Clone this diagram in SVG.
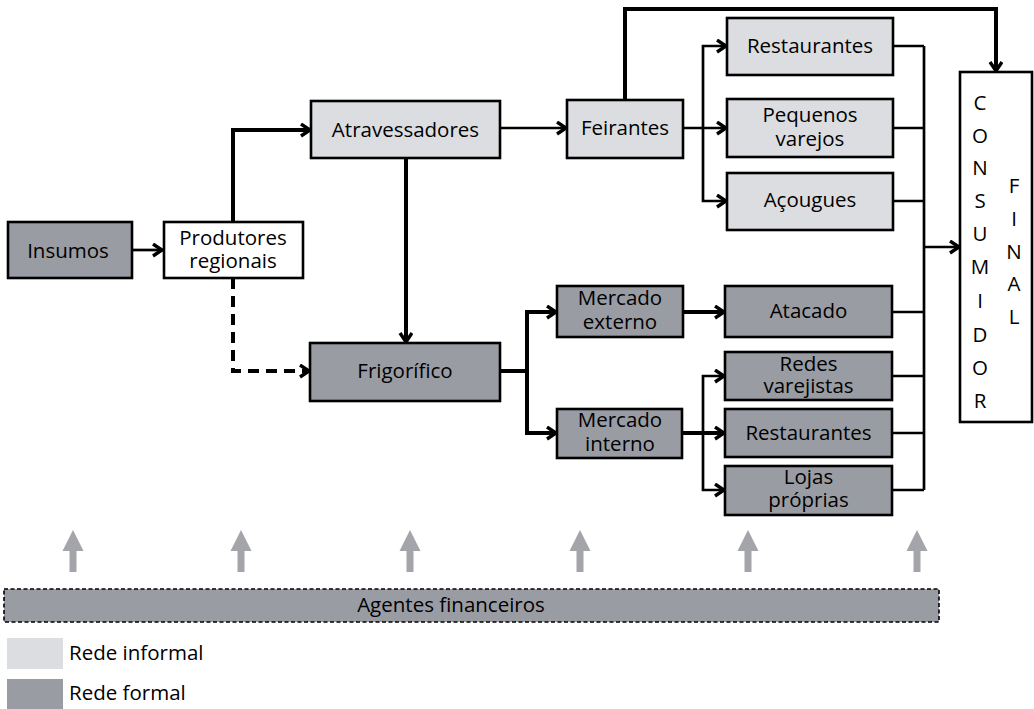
<svg xmlns="http://www.w3.org/2000/svg" width="1034" height="709" viewBox="0 0 1034 709">
<style>
.box{stroke:#000;stroke-width:2.6}
.inf{fill:#dcdde0}
.frm{fill:#9a9ca3}
.wht{fill:#fff}
text{font-family:"Open Sans","Noto Sans",sans-serif;font-size:20.5px;fill:#000;text-anchor:middle}
.thk{fill:none;stroke:#000;stroke-width:4}
.thn{fill:none;stroke:#000;stroke-width:2.7}
.up{fill:#a3a5ab}
</style>
<defs>
<marker id="ah" markerUnits="userSpaceOnUse" markerWidth="16" markerHeight="16" refX="12" refY="7" orient="auto">
<path d="M2,1 L11,7 L2,13" fill="none" stroke="#000" stroke-width="3.4"/>
</marker>
</defs>
<rect x="0" y="0" width="1034" height="709" fill="#fff"/>
<g id="connectors">
<path class="thn" d="M132,250 H163" marker-end="url(#ah)"/>
<path class="thk" d="M233,222 V130 H311" marker-end="url(#ah)"/>
<path class="thk" d="M233,278 V371 H310" stroke-dasharray="11,7" marker-end="url(#ah)"/>
<path class="thk" d="M406,158 V343" marker-end="url(#ah)"/>
<path class="thn" d="M500,128 H567" marker-end="url(#ah)"/>
<path class="thk" d="M625,100 V9 H996 V72" marker-end="url(#ah)"/>
<path class="thn" d="M683,128 H727" marker-end="url(#ah)"/>
<path class="thn" d="M703,128 V46 H727" marker-end="url(#ah)"/>
<path class="thn" d="M703,128 V201 H727" marker-end="url(#ah)"/>
<path class="thn" d="M893,46 H924 M893,128 H924 M893,201 H924 M924,46 V490 M892,312 H924 M892,376 H924 M892,433 H924 M892,490 H924"/>
<path class="thn" d="M924,247 H960" marker-end="url(#ah)"/>
<path class="thk" d="M500,371 H527"/>
<path class="thk" d="M527,371 V312 H557" marker-end="url(#ah)"/>
<path class="thk" d="M527,371 V433 H557" marker-end="url(#ah)"/>
<path class="thk" d="M683,312 H725" marker-end="url(#ah)"/>
<path class="thk" d="M682,433 H725" marker-end="url(#ah)"/>
<path class="thn" d="M703,433 V376 H725" marker-end="url(#ah)"/>
<path class="thn" d="M703,433 V490 H725" marker-end="url(#ah)"/>
</g>
<g id="insumos"><rect class="box frm" x="8" y="222" width="124" height="56"/><text x="68" y="258">Insumos</text></g>
<g id="produtores"><rect class="box wht" x="164" y="222" width="139" height="56"/><text x="233" y="245">Produtores</text><text x="233" y="268">regionais</text></g>
<g id="atravessadores"><rect class="box inf" x="311" y="101" width="189" height="57"/><text x="405.5" y="137">Atravessadores</text></g>
<g id="frigorifico"><rect class="box frm" x="310" y="343" width="190" height="58"/><text x="405" y="378">Frigorífico</text></g>
<g id="feirantes"><rect class="box inf" x="567" y="100" width="116" height="58"/><text x="625" y="135">Feirantes</text></g>
<g id="restaurantes1"><rect class="box inf" x="727" y="18" width="166" height="57"/><text x="810" y="53">Restaurantes</text></g>
<g id="pequenos"><rect class="box inf" x="727" y="99" width="166" height="58"/><text x="810" y="122">Pequenos</text><text x="810" y="146">varejos</text></g>
<g id="acougues"><rect class="box inf" x="727" y="173" width="166" height="57"/><text x="810" y="207">Açougues</text></g>
<g id="mercado-externo"><rect class="box frm" x="557" y="286" width="126" height="51"/><text x="620" y="305">Mercado</text><text x="620" y="329">externo</text></g>
<g id="mercado-interno"><rect class="box frm" x="557" y="409" width="125" height="49"/><text x="620" y="427">Mercado</text><text x="620" y="451">interno</text></g>
<g id="atacado"><rect class="box frm" x="725" y="286" width="167" height="51"/><text x="808.5" y="318">Atacado</text></g>
<g id="redes"><rect class="box frm" x="725" y="352" width="167" height="48"/><text x="808.5" y="371">Redes</text><text x="808.5" y="393">varejistas</text></g>
<g id="restaurantes2"><rect class="box frm" x="725" y="409" width="167" height="48"/><text x="808.5" y="440">Restaurantes</text></g>
<g id="lojas"><rect class="box frm" x="725" y="466" width="167" height="49"/><text x="808.5" y="484">Lojas</text><text x="808.5" y="507">próprias</text></g>
<g id="consumidor"><rect class="box wht" x="960" y="72" width="72" height="350"/>
<text x="980" y="110">C</text><text x="980" y="143">O</text><text x="980" y="175">N</text><text x="980" y="208">S</text><text x="980" y="241">U</text><text x="980" y="274">M</text><text x="980" y="308">I</text><text x="980" y="342">D</text><text x="980" y="375">O</text><text x="980" y="408">R</text>
<text x="1014" y="193">F</text><text x="1014" y="226">I</text><text x="1014" y="259">N</text><text x="1014" y="291">A</text><text x="1014" y="324">L</text>
</g>
<g id="up-arrows">
<path class="up" d="M73,530 L83.5,551 L76.5,551 L76.5,572 L69.5,572 L69.5,551 L62.5,551 Z"/>
<path class="up" d="M241,530 L251.5,551 L244.5,551 L244.5,572 L237.5,572 L237.5,551 L230.5,551 Z"/>
<path class="up" d="M410,530 L420.5,551 L413.5,551 L413.5,572 L406.5,572 L406.5,551 L399.5,551 Z"/>
<path class="up" d="M580,530 L590.5,551 L583.5,551 L583.5,572 L576.5,572 L576.5,551 L569.5,551 Z"/>
<path class="up" d="M748,530 L758.5,551 L751.5,551 L751.5,572 L744.5,572 L744.5,551 L737.5,551 Z"/>
<path class="up" d="M917,530 L927.5,551 L920.5,551 L920.5,572 L913.5,572 L913.5,551 L906.5,551 Z"/>
</g>
<g id="agentes"><rect x="4" y="589" width="935" height="33" fill="#9a9ca3" stroke="#000" stroke-width="1.6" stroke-dasharray="4,2.5"/><text x="451" y="612">Agentes financeiros</text></g>
<g id="legend">
<rect x="7" y="638" width="56" height="31" fill="#dcdde0"/><text x="69" y="660" style="text-anchor:start">Rede informal</text>
<rect x="7" y="679" width="56" height="30" fill="#9a9ca3"/><text x="69" y="700" style="text-anchor:start">Rede formal</text>
</g>
</svg>
